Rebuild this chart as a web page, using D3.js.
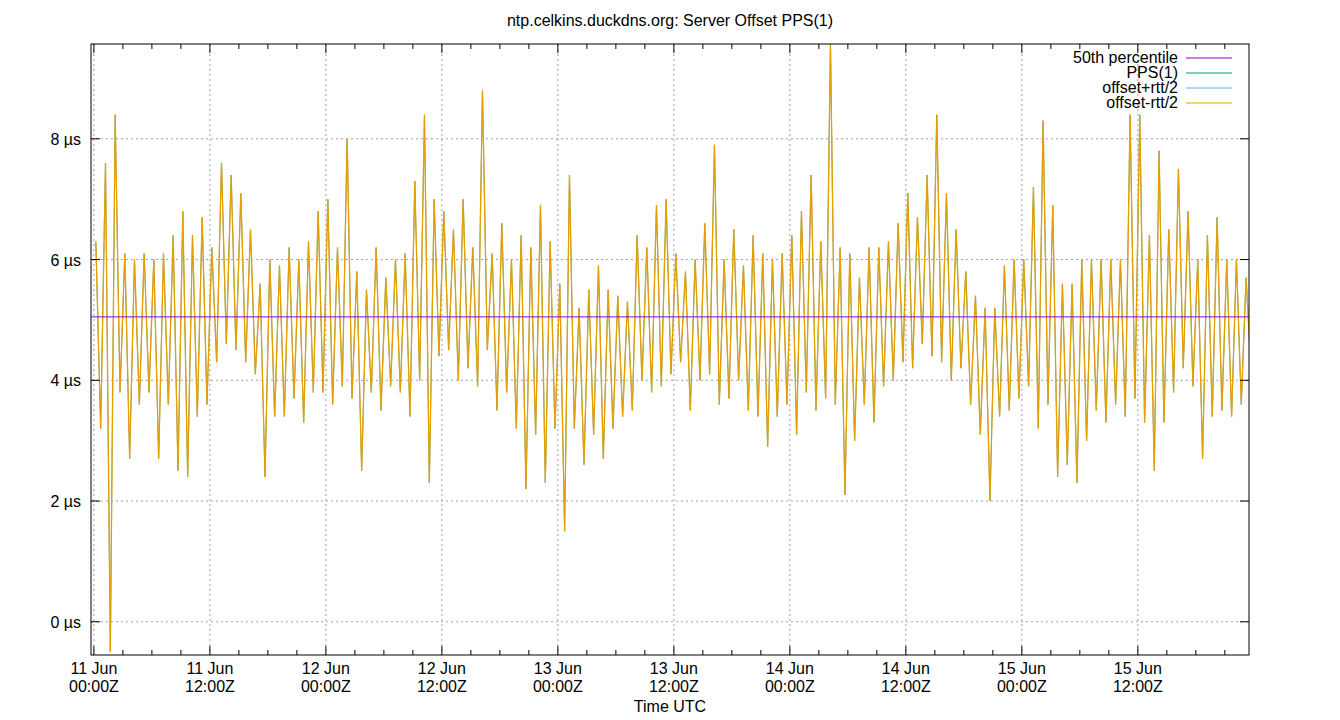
<!DOCTYPE html>
<html>
<head>
<meta charset="utf-8">
<script src="https://cdn.jsdelivr.net/npm/d3@7"></script>
<style>
  body { margin: 0; background: #fff; }
  text { font-family: "Liberation Sans", Arial, sans-serif; }
</style>
</head>
<body>
<svg width="1340" height="720"></svg>
<script>
// hourly envelope of offset-rtt/2 (µs), hour 0 = 11 Jun 00:00Z
const hourHigh = [
  6.3, 7.6, 8.4, 6.1, 6.0, 6.1, 6.0, 6.1, 6.4, 6.8, 6.4, 6.7,
  6.2, 7.6, 7.4, 7.1, 6.5, 5.6, 6.0, 5.9, 6.2, 6.0, 6.3, 6.8,
  7.0, 6.2, 8.0, 5.8, 5.5, 6.2, 5.7, 6.0, 6.1, 7.3, 8.4, 7.0,
  6.8, 6.5, 7.0, 6.2, 8.8, 6.1, 6.6, 6.0, 6.4, 6.2, 6.9, 6.3,
  5.6, 7.4, 5.2, 5.5, 5.9, 5.5, 5.4, 5.3, 6.4, 6.2, 6.9, 7.0,
  6.1, 5.8, 6.0, 6.6, 7.9, 6.0, 6.5, 5.9, 6.4, 6.1, 6.0, 6.1,
  6.4, 6.8, 7.4, 6.3, 9.6, 6.2, 6.1, 5.7, 6.2, 6.2, 6.3, 6.6,
  7.1, 6.7, 7.4, 8.4, 7.1, 6.5, 5.8, 5.4, 5.2, 5.2, 5.9, 6.0,
  6.0, 7.2, 8.3, 6.9, 5.6, 5.6, 6.0, 6.0, 6.0, 6.0, 6.0, 8.4,
  8.4, 6.4, 7.8, 6.5, 7.5, 6.8, 6.0, 6.4, 6.7, 6.0, 6.0, 5.7
];
const hourLow = [
  3.2, -0.5, 3.8, 2.7, 3.6, 3.8, 2.7, 3.6, 2.5, 2.4, 3.4, 3.6,
  4.3, 4.6, 4.5, 4.3, 4.1, 2.4, 3.4, 3.4, 3.7, 3.3, 3.8, 3.8,
  3.6, 3.9, 3.7, 2.5, 3.8, 3.5, 3.9, 3.8, 3.4, 4.0, 2.3, 4.4,
  4.5, 4.0, 4.2, 3.9, 4.5, 3.5, 3.8, 3.2, 2.2, 3.1, 2.3, 3.2,
  1.5, 3.2, 2.6, 3.1, 2.7, 3.2, 3.4, 3.5, 4.0, 3.8, 3.9, 4.1,
  4.3, 3.5, 4.0, 4.1, 3.6, 3.7, 4.0, 3.5, 3.4, 2.9, 3.4, 3.6,
  3.1, 3.8, 3.5, 3.7, 3.6, 2.1, 3.0, 3.6, 3.3, 3.9, 4.0, 4.3,
  4.2, 4.6, 4.4, 4.3, 4.0, 4.2, 3.6, 3.1, 2.0, 3.4, 3.5, 3.7,
  3.9, 3.2, 3.6, 2.4, 2.6, 2.3, 3.0, 3.5, 3.3, 3.6, 3.4, 3.7,
  3.3, 2.5, 3.3, 3.8, 4.2, 3.9, 2.7, 3.4, 3.5, 3.4, 3.6, 4.2
];
const median = 5.05;
const yTicks = [0, 2, 4, 6, 8];
const legendNames = ['50th percentile', 'PPS(1)', 'offset+rtt/2', 'offset-rtt/2'];
const legendColors = ['#9400d3', '#009e73', '#56b4e9', '#e69f00'];

const svg = d3.select('svg');
const pL = 91, pR = 1249, pT = 44, pB = 655;
const t0 = Date.UTC(2024, 5, 11);
const hour = 3600e3;

const x = d3.scaleUtc()
  .domain([new Date(t0 - 0.3 * hour), new Date(t0 + 119.5 * hour)])
  .range([pL, pR]);
const y = d3.scaleLinear().domain([-0.55, 9.57]).range([pB, pT]);

// grid
const major = d3.utcHour.every(12).range(x.domain()[0], x.domain()[1]);
const minor = d3.utcHour.every(3).range(x.domain()[0], x.domain()[1]);
const grid = svg.append('g').attr('stroke', '#a0a0a0').attr('stroke-dasharray', '2,3');
grid.selectAll('.gx').data(major).join('line')
  .attr('x1', d => x(d)).attr('x2', d => x(d)).attr('y1', pT).attr('y2', pB);
grid.selectAll('.gy').data(yTicks).join('line')
  .attr('y1', d => y(d)).attr('y2', d => y(d)).attr('x1', pL).attr('x2', pR);

// series: zigzag through each hour's high and low
const pts = [];
hourHigh.forEach((h, i) => {
  pts.push({t: new Date(t0 + (i + 0.2) * hour), v: h});
  pts.push({t: new Date(t0 + (i + 0.7) * hour), v: hourLow[i]});
});
const line = d3.line().x(d => x(d.t)).y(d => y(d.v));
svg.append('defs').append('clipPath').attr('id', 'clip')
  .append('rect').attr('x', pL).attr('y', pT).attr('width', pR - pL).attr('height', pB - pT);
const body = svg.append('g').attr('clip-path', 'url(#clip)');
body.append('path').attr('d', line(pts)).attr('fill', 'none')
  .attr('stroke', legendColors[2]).attr('stroke-width', 1);
body.append('path').attr('d', line(pts)).attr('fill', 'none')
  .attr('stroke', legendColors[3]).attr('stroke-width', 1.3);
body.append('line').attr('x1', pL).attr('x2', pR)
  .attr('y1', y(median)).attr('y2', y(median)).attr('stroke', legendColors[0]);

// axes (gnuplot style inward ticks, mirrored)
svg.append('rect').attr('x', pL).attr('y', pT).attr('width', pR - pL).attr('height', pB - pT)
  .attr('fill', 'none').attr('stroke', '#000');
const tk = svg.append('g').attr('stroke', '#000');
minor.forEach(d => {
  const len = major.some(m => +m === +d) ? 9 : 5;
  tk.append('line').attr('x1', x(d)).attr('x2', x(d)).attr('y1', pB).attr('y2', pB - len);
  tk.append('line').attr('x1', x(d)).attr('x2', x(d)).attr('y1', pT).attr('y2', pT + len);
});
yTicks.forEach(v => {
  tk.append('line').attr('x1', pL).attr('x2', pL + 9).attr('y1', y(v)).attr('y2', y(v));
  tk.append('line').attr('x1', pR).attr('x2', pR - 9).attr('y1', y(v)).attr('y2', y(v));
});

svg.selectAll('.yl').data(yTicks).join('text')
  .attr('x', 81).attr('y', d => y(d) + 6).attr('text-anchor', 'end')
  .attr('font-size', 16).text(d => d + ' µs');

const fmtDay = d3.utcFormat('%d %b');
const fmtTime = d3.utcFormat('%H:%MZ');
const xl = svg.selectAll('.xl').data(major).join('text')
  .attr('text-anchor', 'middle').attr('font-size', 16);
xl.append('tspan').attr('x', d => x(d)).attr('y', 674).text(d => fmtDay(d));
xl.append('tspan').attr('x', d => x(d)).attr('y', 692).text(d => fmtTime(d));

svg.append('text').attr('x', 670).attr('y', 712).attr('text-anchor', 'middle')
  .attr('font-size', 16).text('Time UTC');
svg.append('text').attr('x', 670).attr('y', 26).attr('text-anchor', 'middle')
  .attr('font-size', 16).text('ntp.celkins.duckdns.org: Server Offset PPS(1)');

// legend
legendNames.forEach((n, i) => {
  const ly = 58 + i * 15;
  svg.append('text').attr('x', 1178).attr('y', ly + 5).attr('text-anchor', 'end')
    .attr('font-size', 16).text(n);
  svg.append('line').attr('x1', 1186).attr('x2', 1232).attr('y1', ly).attr('y2', ly)
    .attr('stroke', legendColors[i]);
});
</script>
</body>
</html>
